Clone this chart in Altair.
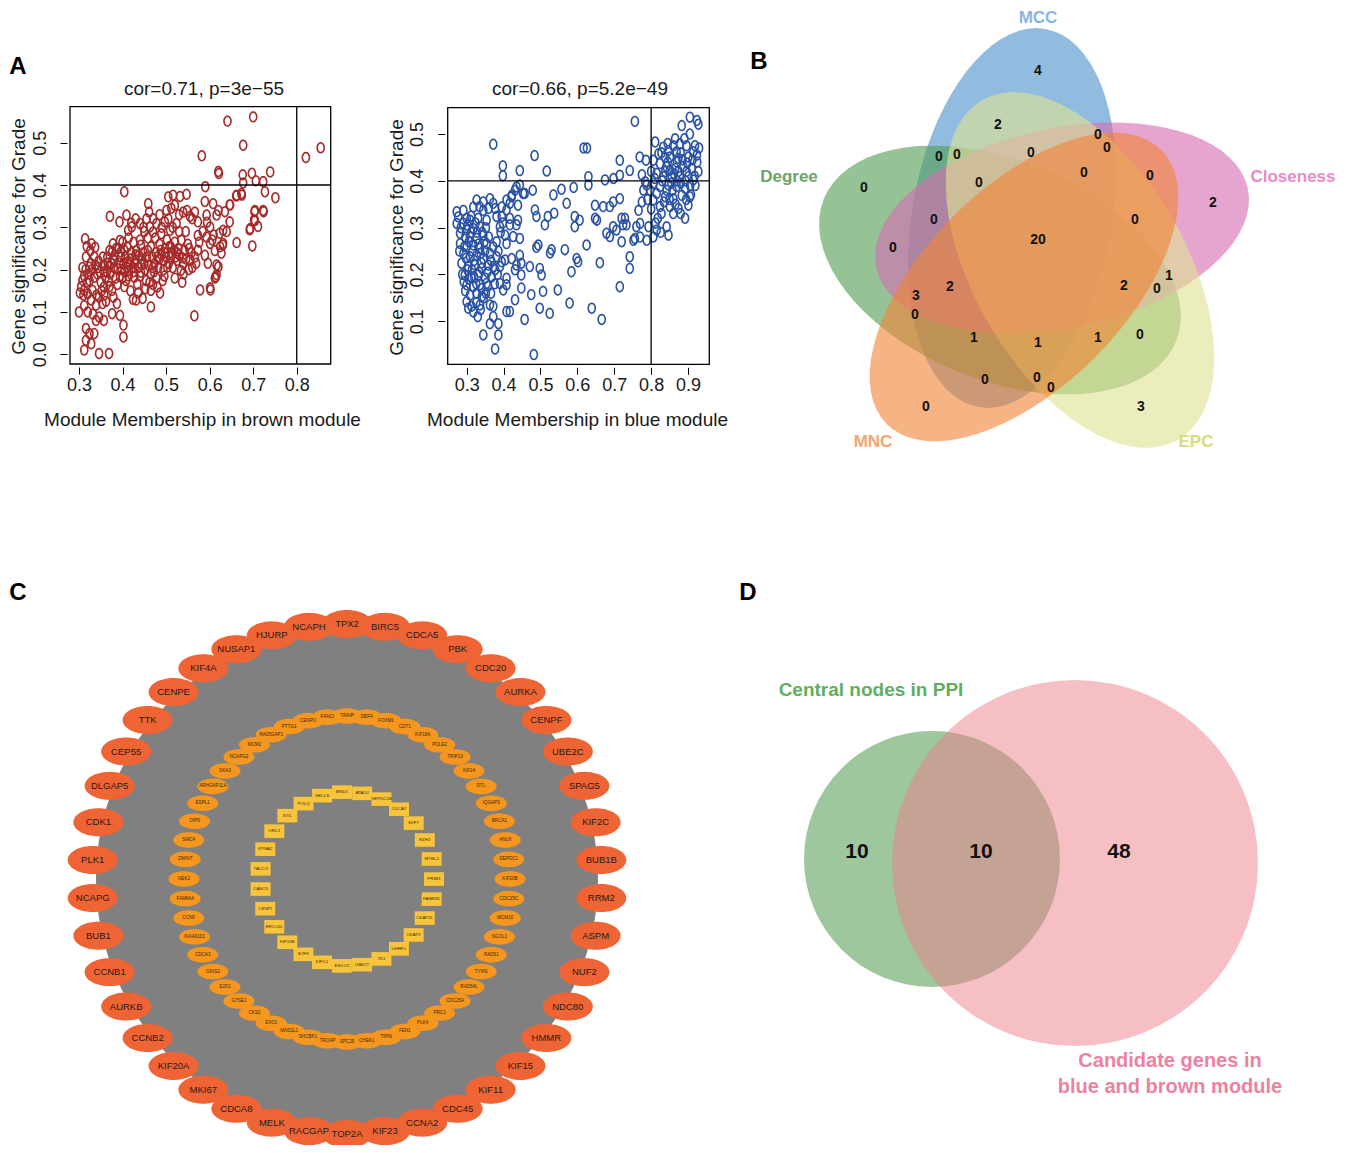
import math
import altair as alt
import pandas as pd

W, H = 1332, 1137
FONT = "Liberation Sans"

# ---------------- Panel A data ----------------
brown_pts = [
    (0.700,0.561),(0.641,0.551),(0.677,0.494),(0.582,0.469),(0.620,0.432),(0.621,0.427),(0.821,0.465),(0.855,0.488),
    (0.676,0.424),(0.697,0.428),(0.739,0.431),(0.706,0.410),(0.723,0.408),(0.677,0.405),(0.590,0.396),(0.404,0.384),
    (0.751,0.370),(0.727,0.384),(0.674,0.376),(0.661,0.374),(0.647,0.353),(0.703,0.337),(0.724,0.337),(0.702,0.317),
    (0.711,0.302),(0.692,0.294),(0.698,0.256),(0.662,0.264),(0.630,0.258),(0.627,0.239),(0.639,0.290),(0.623,0.286),
    (0.609,0.282),(0.620,0.207),(0.614,0.183),(0.602,0.152),(0.578,0.152),(0.565,0.091),
    (0.371,0.326),(0.393,0.313),(0.409,0.329),(0.459,0.356),(0.461,0.336),(0.505,0.372),(0.516,0.376),(0.532,0.373),
    (0.547,0.378),(0.501,0.340),(0.520,0.352),(0.314,0.273),(0.329,0.261),(0.337,0.253),(0.378,0.261),(0.394,0.269),
    (0.413,0.293),(0.421,0.301),(0.440,0.309),(0.463,0.301),(0.478,0.309),(0.497,0.313),(0.470,0.289),(0.489,0.285),
    (0.509,0.293),(0.524,0.309),(0.539,0.336),(0.555,0.326),(0.566,0.336),(0.573,0.313),(0.589,0.361),(0.608,0.356),
    (0.620,0.340),(0.593,0.329),(0.616,0.329),(0.635,0.337),(0.646,0.353),(0.601,0.301),(0.631,0.293),(0.646,0.313),
    (0.662,0.376),(0.673,0.380),(0.704,0.340),(0.723,0.340),(0.704,0.316),(0.693,0.297),(0.573,0.281),(0.593,0.277),
    (0.601,0.262),(0.573,0.246),(0.589,0.234),(0.596,0.215),(0.616,0.211),(0.569,0.215),(0.555,0.223),(0.539,0.215),
    (0.616,0.188),(0.612,0.180),(0.601,0.157),(0.624,0.254),(0.631,0.262),
    (0.316,0.230),(0.324,0.206),(0.312,0.151),(0.320,0.143),(0.331,0.151),(0.324,0.174),(0.335,0.182),(0.328,0.128),
    (0.339,0.116),(0.346,0.135),(0.354,0.120),(0.357,0.159),(0.361,0.182),(0.368,0.206),(0.365,0.230),(0.376,0.242),
    (0.368,0.174),(0.376,0.151),(0.379,0.135),(0.387,0.120),(0.381,0.222),(0.389,0.202),(0.396,0.230),(0.404,0.246),
    (0.411,0.218),(0.415,0.198),(0.400,0.182),(0.408,0.174),(0.423,0.206),(0.430,0.222),(0.438,0.234),(0.450,0.214),
    (0.442,0.194),(0.427,0.182),(0.434,0.166),(0.454,0.174),(0.465,0.190),(0.473,0.214),(0.480,0.230),(0.488,0.246),
    (0.495,0.222),(0.503,0.206),(0.511,0.230),(0.518,0.246),(0.526,0.222),(0.465,0.254),(0.442,0.258),(0.411,0.254),
    (0.396,0.242),(0.534,0.198),(0.537,0.170),(0.492,0.174),(0.480,0.159),(0.465,0.151),(0.431,0.128),(0.446,0.132),
    (0.465,0.112),(0.346,0.088),(0.339,0.080),(0.357,0.080),(0.376,0.096),(0.394,0.092),(0.402,0.069),(0.402,0.041),
    (0.316,0.061),(0.324,0.049),(0.316,0.033),(0.328,0.025),(0.312,0.010),(0.346,0.002),(0.369,0.002),(0.335,0.049),
    (0.305,0.160),(0.310,0.140),(0.318,0.170),(0.322,0.190),(0.330,0.200),(0.338,0.210),(0.342,0.190),(0.350,0.170),
    (0.352,0.150),(0.358,0.140),(0.362,0.125),(0.370,0.160),(0.372,0.190),(0.380,0.205),(0.384,0.180),(0.388,0.165),
    (0.392,0.215),(0.398,0.200),(0.402,0.215),(0.406,0.230),(0.410,0.205),(0.414,0.185),(0.418,0.225),(0.420,0.240),
    (0.425,0.195),(0.428,0.215),(0.432,0.245),(0.436,0.205),(0.440,0.185),(0.445,0.225),(0.448,0.240),(0.452,0.200),
    (0.456,0.230),(0.460,0.210),(0.462,0.170),(0.468,0.230),(0.472,0.195),(0.476,0.240),(0.478,0.180),(0.482,0.205),
    (0.485,0.260),(0.490,0.235),(0.494,0.200),(0.498,0.250),(0.500,0.230),(0.502,0.270),(0.506,0.215),(0.508,0.255),
    (0.512,0.240),(0.515,0.205),(0.520,0.265),(0.522,0.230),(0.528,0.250),(0.530,0.235),(0.535,0.270),(0.542,0.245),
    (0.546,0.225),(0.550,0.260),(0.552,0.200),(0.558,0.240),(0.545,0.290),(0.530,0.290),(0.515,0.300),(0.505,0.320),
    (0.490,0.300),(0.475,0.275),(0.458,0.275),(0.450,0.290),(0.440,0.270),(0.425,0.265),(0.414,0.275),(0.400,0.265),
    (0.385,0.250),(0.370,0.245),(0.355,0.230),(0.345,0.220),(0.335,0.230),(0.326,0.245),(0.318,0.255),(0.308,0.205),
    (0.312,0.185),(0.302,0.145),(0.300,0.100),(0.312,0.115),(0.320,0.100),(0.332,0.095),(0.340,0.140),(0.348,0.195),
    (0.356,0.210),(0.364,0.195),(0.374,0.215),(0.382,0.235),(0.390,0.250),(0.404,0.160),(0.418,0.150),(0.424,0.130),
    (0.436,0.145),(0.452,0.155),(0.470,0.165),(0.486,0.145),(0.496,0.185),(0.520,0.180),(0.540,0.190),(0.560,0.205),
    (0.566,0.230),(0.576,0.265),(0.584,0.290),(0.594,0.312),(0.606,0.270),(0.612,0.245),(0.560,0.320),(0.548,0.340),
    (0.530,0.330),(0.512,0.345),(0.485,0.330),(0.470,0.320),(0.455,0.320),(0.430,0.320),(0.420,0.310),(0.448,0.300),
    (0.308,0.175),(0.315,0.200),(0.327,0.215),(0.344,0.205),(0.358,0.195),(0.366,0.215),(0.378,0.225),(0.394,0.185),
    (0.405,0.195),(0.416,0.210),(0.430,0.235),(0.443,0.212),(0.458,0.245),(0.470,0.205),(0.484,0.225),(0.497,0.240),
    (0.510,0.255),(0.525,0.240),(0.538,0.228),(0.553,0.250),
]

blue_pts = [
    (0.756,0.527),(0.372,0.478),(0.484,0.454),(0.617,0.470),(0.626,0.470),(0.398,0.432),(0.398,0.411),(0.444,0.422),
    (0.517,0.421),(0.715,0.444),(0.742,0.422),(0.769,0.451),(0.786,0.444),(0.811,0.483),(0.833,0.472),(0.905,0.536),
    (0.928,0.521),(0.883,0.518),(0.924,0.529),
    (0.860,0.475),(0.878,0.479),(0.896,0.475),(0.919,0.475),(0.851,0.451),(0.874,0.448),(0.901,0.451),(0.924,0.455),
    (0.824,0.437),(0.842,0.430),(0.865,0.427),(0.887,0.430),(0.910,0.427),(0.928,0.420),(0.815,0.416),(0.833,0.409),
    (0.856,0.406),(0.878,0.409),(0.901,0.409),(0.914,0.402),(0.806,0.395),(0.824,0.388),(0.847,0.391),(0.869,0.388),
    (0.892,0.384),(0.788,0.391),(0.779,0.380),(0.815,0.373),(0.838,0.366),(0.860,0.362),(0.883,0.369),(0.905,0.366),
    (0.806,0.359),(0.824,0.345),(0.851,0.345),(0.874,0.341),(0.901,0.348),(0.892,0.320),(0.860,0.330),(0.842,0.302),
    (0.847,0.284),(0.815,0.295),(0.806,0.280),(0.788,0.273),(0.770,0.280),(0.752,0.273),(0.793,0.302),(0.770,0.309),
    (0.766,0.337),(0.775,0.355),(0.784,0.398),(0.775,0.413),(0.806,0.444),(0.820,0.458),(0.847,0.465),(0.869,0.462),
    (0.914,0.462),(0.851,0.423),(0.874,0.420),(0.896,0.420),(0.842,0.380),
    (0.830,0.400),(0.838,0.420),(0.845,0.440),(0.855,0.395),(0.862,0.415),(0.870,0.400),(0.880,0.395),(0.885,0.445),
    (0.893,0.400),(0.898,0.438),(0.906,0.390),(0.912,0.445),(0.918,0.410),(0.920,0.390),(0.925,0.440),(0.930,0.470),
    (0.905,0.500),(0.890,0.490),(0.870,0.440),(0.858,0.380),(0.850,0.360),(0.835,0.355),(0.828,0.330),(0.818,0.320),
    (0.810,0.405),(0.800,0.420),(0.797,0.380),(0.790,0.360),(0.800,0.340),(0.812,0.310),(0.826,0.290),(0.866,0.350),
    (0.880,0.330),(0.895,0.360),(0.908,0.370),(0.880,0.460),(0.865,0.490),(0.845,0.480),(0.828,0.460),(0.838,0.450),
    (0.675,0.402),(0.698,0.405),(0.715,0.412),(0.630,0.409),(0.630,0.391),(0.590,0.386),(0.557,0.382),(0.535,0.370),
    (0.571,0.352),(0.479,0.380),(0.457,0.373),(0.435,0.387),(0.422,0.369),(0.417,0.352),(0.439,0.348),(0.453,0.373),
    (0.408,0.338),(0.395,0.324),(0.417,0.320),(0.439,0.316),(0.485,0.338),(0.489,0.324),(0.520,0.324),(0.537,0.331),
    (0.512,0.306),(0.593,0.324),(0.606,0.316),(0.593,0.302),(0.648,0.348),(0.670,0.345),(0.688,0.345),(0.697,0.355),
    (0.715,0.362),(0.648,0.320),(0.653,0.316),(0.679,0.288),(0.688,0.281),(0.706,0.295),(0.720,0.320),(0.729,0.320),
    (0.724,0.306),(0.720,0.270),(0.733,0.306),(0.697,0.302),(0.760,0.302),(0.756,0.277),(0.742,0.238),(0.742,0.213),
    (0.715,0.174),(0.661,0.225),(0.625,0.263),(0.602,0.227),(0.598,0.234),(0.584,0.206),(0.566,0.253),(0.526,0.246),
    (0.530,0.253),(0.494,0.263),(0.489,0.258),(0.498,0.213),(0.503,0.199),(0.471,0.217),(0.444,0.241),(0.448,0.224),
    (0.431,0.210),(0.448,0.199),(0.408,0.192),(0.408,0.178),(0.390,0.181),(0.399,0.167),(0.431,0.146),(0.448,0.171),
    (0.475,0.157),(0.507,0.164),(0.547,0.167),(0.498,0.128),(0.525,0.117),(0.579,0.139),(0.639,0.128),(0.666,0.104),
    (0.457,0.104),(0.417,0.121),(0.408,0.121),(0.372,0.132),(0.372,0.110),(0.386,0.095),(0.363,0.095),(0.345,0.071),
    (0.386,0.071),(0.377,0.041),(0.482,0.029),
    (0.273,0.334),(0.273,0.309),(0.291,0.337),(0.327,0.359),(0.363,0.362),(0.372,0.352),(0.345,0.337),(0.381,0.324),
    (0.354,0.316),(0.282,0.288),(0.300,0.295),(0.318,0.298),(0.336,0.302),(0.309,0.281),(0.327,0.277),(0.345,0.284),
    (0.282,0.266),(0.300,0.259),(0.318,0.263),(0.336,0.256),(0.354,0.266),(0.372,0.259),(0.291,0.245),(0.309,0.238),
    (0.327,0.241),(0.345,0.234),(0.363,0.245),(0.381,0.238),(0.286,0.224),(0.304,0.217),(0.322,0.220),(0.341,0.213),
    (0.359,0.220),(0.377,0.210),(0.295,0.199),(0.313,0.195),(0.331,0.199),(0.350,0.192),(0.368,0.195),(0.300,0.178),
    (0.318,0.174),(0.336,0.178),(0.354,0.181),(0.309,0.156),(0.327,0.160),(0.341,0.153),(0.300,0.142),(0.313,0.132),
    (0.336,0.135),(0.363,0.135),(0.304,0.128),(0.372,0.217),(0.390,0.217),(0.395,0.227),(0.381,0.270),(0.408,0.266),
    (0.404,0.284),(0.390,0.302),(0.417,0.306),(0.435,0.306),(0.426,0.281),(0.444,0.277),(0.404,0.231),(0.422,0.234),
    (0.435,0.220),(0.277,0.323),(0.309,0.316),(0.331,0.320),(0.318,0.344),(0.359,0.341),(0.377,0.341),(0.395,0.344),
    (0.408,0.359),(0.422,0.366),(0.431,0.380),(0.444,0.391),
    (0.290,0.310),(0.296,0.280),(0.302,0.305),(0.306,0.270),(0.312,0.290),(0.316,0.250),(0.320,0.230),(0.324,0.310),
    (0.328,0.290),(0.332,0.265),(0.338,0.245),(0.340,0.225),(0.342,0.290),(0.348,0.270),(0.350,0.250),(0.352,0.300),
    (0.356,0.205),(0.360,0.280),(0.366,0.230),(0.294,0.260),(0.298,0.235),(0.302,0.210),(0.288,0.200),(0.292,0.185),
    (0.296,0.165),(0.306,0.190),(0.314,0.210),(0.320,0.195),(0.326,0.180),(0.334,0.205),(0.340,0.170),(0.346,0.150),
    (0.352,0.160),(0.284,0.300),(0.280,0.250),(0.326,0.140),(0.318,0.120),(0.330,0.110),(0.338,0.125),(0.358,0.175),
    (0.366,0.160),(0.376,0.180),(0.384,0.200),(0.386,0.250),(0.392,0.290),(0.398,0.310),(0.312,0.325),(0.300,0.320),
    (0.345,0.355),(0.335,0.345),
]

brown_x = [p[0] for p in brown_pts]
brown_y = [p[1] for p in brown_pts]
blue_x = [p[0] for p in blue_pts]
blue_y = [p[1] for p in blue_pts]

a1_title = "cor=0.71, p=3e\u221255"
a2_title = "cor=0.66, p=5.2e\u221249"
a1_xticks = [0.3, 0.4, 0.5, 0.6, 0.7, 0.8]
a1_yticks = [0.0, 0.1, 0.2, 0.3, 0.4, 0.5]
a2_xticks = [0.3, 0.4, 0.5, 0.6, 0.7, 0.8, 0.9]
a2_yticks = [0.1, 0.2, 0.3, 0.4, 0.5]
thr_x, thr_y = 0.8, 0.4

# ---------------- Panel B data ----------------
venn5_sets = ["MCC", "Closeness", "EPC", "MNC", "Degree"]
venn5_counts = [4, 2, 0, 0, 0, 0, 0, 0, 0, 0, 0, 2, 0, 0, 0, 20, 2, 2, 3, 0, 1, 0, 0, 1, 1, 1, 0, 0, 0, 0, 3]

# ---------------- Panel C data ----------------
outer_genes = ["TPX2", "BIRC5", "CDCA5", "PBK", "CDC20", "AURKA", "CENPF", "UBE2C", "SPAG5", "KIF2C", "BUB1B",
               "RRM2", "ASPM", "NUF2", "NDC80", "HMMR", "KIF15", "KIF11", "CDC45", "CCNA2", "KIF23", "TOP2A",
               "RACGAP", "MELK", "CDCA8", "MKI67", "KIF20A", "CCNB2", "AURKB", "CCNB1", "BUB1", "NCAPG", "PLK1",
               "CDK1", "DLGAP5", "CEP55", "TTK", "CENPE", "KIF4A", "NUSAP1", "HJURP", "NCAPH"]
middle_genes = ["TRAIP", "DBF4", "FOXM1", "CDT1", "KIF18A", "POLE2", "TRIP13", "KIF14", "DTL", "IQGAP3", "BRCA1",
                "ANLN", "DEPDC1", "KIF20B", "CDC25C", "MCM10", "SGOL1", "RAD51", "TYMS", "RAD54L", "CDC25A",
                "PRC1", "PLK4", "FEN1", "TIPIN", "CHEK1", "SPC25", "TROAP", "SHCBP1", "MAD2L1", "EXO1", "CKS2",
                "GTSE1", "E2F2", "GINS2", "CDCA3", "KIAA0101", "CCNF", "FAM64A", "NEK2", "ZWINT", "SMC4", "OIP5",
                "ESPL1", "ARHGAP11A", "SKA3", "NCAPG2", "MCM2", "RAD51AP1", "PTTG1", "CENPU", "FANCI"]
inner_genes = ["MND1", "ATAD2", "DEPDC1B", "CDCA7", "E2F7", "EZH2", "MYBL2", "PRIM1", "FAM83D", "CKAP2L", "CKAP2",
               "UHRF1", "TK1", "UBE2T", "ESCO2", "KIFC1", "E2F8", "KIF18B", "ERCC6L", "CENPI", "CASC5", "TACC3",
               "KPNA2", "ORC1", "STIL", "POLQ", "HELLS"]

# ---------------- Panel D data ----------------
venn2_counts = [10, 10, 48]
venn2_labels = ["Central nodes in PPI", "Candidate genes in", "blue and brown module"]

# ---------------- helpers ----------------
def ell_path(rx, ry, n=72):
    pts = [f"{rx*math.cos(2*math.pi*k/n):.4f},{ry*math.sin(2*math.pi*k/n):.4f}" for k in range(n)]
    return "M" + " L".join(pts) + " Z"

def rect_path(rx, ry):
    return f"M{-rx},{-ry} L{rx},{-ry} L{rx},{ry} L{-rx},{ry} Z"

CXS = alt.Scale(domain=[8, 8 + W], range=[0, W], nice=False, zero=False)
CYS = alt.Scale(domain=[8, 8 + H], range=[0, H], nice=False, zero=False)

def cx(f="x"):
    return alt.X(f"{f}:Q", scale=CXS, axis=None)

def cy(f="y"):
    return alt.Y(f"{f}:Q", scale=CYS, axis=None)

def text_layer(df, size, color="#111111", weight="normal", align="center"):
    return alt.Chart(df).mark_text(font=FONT, fontSize=size, fontWeight=weight, color=color,
                                   align=align, baseline="middle").encode(x=cx(), y=cy(), text="t:N")

layers = []

# ---------------- Panel A scatter layers ----------------
def scatter(xs, ys, color, xdom, ydom, xr, yr, xticks, yticks, xtitle, xt_pos, yt_pos, left_px):
    XS = alt.Scale(domain=xdom, range=xr, nice=False, zero=False)
    YS = alt.Scale(domain=ydom, range=yr, nice=False, zero=False)
    axis_y_px = yr[0] + 3
    xaxis = alt.Axis(orient="bottom", offset=axis_y_px - H, values=xticks, format=".1f", grid=False,
                     domain=False, tickSize=7, tickColor="black", tickWidth=1, labelFont=FONT,
                     labelFontSize=18, labelColor="#1a1a1a", labelPadding=2, labelFlush=False,
                     labelOverlap=False, title=xtitle, titleFont=FONT, titleFontSize=19,
                     titleFontWeight="normal", titleColor="#1a1a1a", titleX=xt_pos[0] - 8,
                     titleY=xt_pos[1] - 8 - axis_y_px, titleAlign="center", titleBaseline="middle")
    axis_x_px = left_px - 8 - 3
    yaxis = alt.Axis(orient="left", offset=-axis_x_px, values=yticks, format=".1f", grid=False,
                     domain=False, tickSize=7, tickColor="black", tickWidth=1, labelFont=FONT,
                     labelFontSize=18, labelColor="#1a1a1a", labelAngle=270, labelAlign="center",
                     labelBaseline="bottom", labelPadding=11, labelFlush=False, labelOverlap=False,
                     title="Gene significance for Grade", titleFont=FONT, titleFontSize=19,
                     titleFontWeight="normal", titleColor="#1a1a1a", titleAngle=270,
                     titleX=yt_pos[0] - 8 - axis_x_px, titleY=yt_pos[1] - 8,
                     titleAlign="center", titleBaseline="middle")
    df = pd.DataFrame({"x": xs, "y": ys})
    pts = alt.Chart(df).mark_point(shape=ell_path(0.72, 1.0, 24), filled=False, size=96,
                                   strokeWidth=1.6, color=color, opacity=1).encode(
        x=alt.X("x:Q", scale=XS, axis=xaxis), y=alt.Y("y:Q", scale=YS, axis=yaxis))
    box = alt.Chart(pd.DataFrame({"x0": [xdom[0]], "x1": [xdom[1]], "y0": [ydom[0]], "y1": [ydom[1]]})).mark_rect(
        fillOpacity=0, stroke="black", strokeWidth=1.3).encode(
        x=alt.X("x0:Q", scale=XS, axis=None), x2="x1:Q", y=alt.Y("y0:Q", scale=YS, axis=None), y2="y1:Q")
    hr = alt.Chart(pd.DataFrame({"x0": [xdom[0]], "x1": [xdom[1]], "y": [thr_y]})).mark_rule(
        color="black", strokeWidth=1.3).encode(
        x=alt.X("x0:Q", scale=XS, axis=None), x2="x1:Q", y=alt.Y("y:Q", scale=YS, axis=None))
    vr = alt.Chart(pd.DataFrame({"x": [thr_x], "y0": [ydom[0]], "y1": [ydom[1]]})).mark_rule(
        color="black", strokeWidth=1.3).encode(
        x=alt.X("x:Q", scale=XS, axis=None), y=alt.Y("y0:Q", scale=YS, axis=None), y2="y1:Q")
    return [pts, box, hr, vr]

layers += scatter(brown_x, brown_y, "#a52a2a", [0.2793, 0.878], [-0.0229, 0.585], [62, 322.7], [356, 98.7],
                  a1_xticks, a1_yticks, "Module Membership in brown module", (202, 419), (18, 236), 70)
layers += scatter(blue_x, blue_y, "#2a52a3", [0.2485, 0.9577], [0.0082, 0.5562], [439.7, 701.3], [356.3, 99.7],
                  a2_xticks, a2_yticks, "Module Membership in blue module", (577, 419), (396, 237), 447.7)

layers.append(text_layer(pd.DataFrame({"x": [204, 580], "y": [89, 89], "t": [a1_title, a2_title]}), 19,
                         color="#1a1a1a"))

# ---------------- Panel B: five-set Venn ----------------
# ellipse geometry: centre, semi-axes, rotation (drawing order = list order)
v5_geom = [
    ("MCC",       1012, 218, 192, 100, 100, "#4e93cc"),
    ("Degree",    1000, 270, 190, 110, 22,  "#569e56"),
    ("Closeness", 1062, 228, 190, 100, 168, "#d56db2"),
    ("EPC",       1080, 270, 196, 106, 60,  "#e0e293"),
    ("MNC",       1024, 287, 194, 100, 135, "#f08437"),
]
for name, ex, ey, ea, eb, eang, ecol in v5_geom:
    layers.append(alt.Chart(pd.DataFrame({"x": [ex], "y": [ey], "ang": [eang]})).mark_point(
        shape=ell_path(1.0, eb / ea), filled=True, size=(2 * ea) ** 2, color=ecol, opacity=0.62,
        strokeWidth=0).encode(x=cx(), y=cy(), angle=alt.Angle("ang:Q", scale=None)))

v5_num_x = [1038, 998, 1098, 1107, 939, 957, 1031, 864, 979, 1084, 1150, 1213, 934, 1135, 893, 1038,
            950, 1124, 916, 915, 1169, 1157, 1140, 974, 1038, 1098, 985, 1037, 1051, 926, 1141]
v5_num_y = [71, 125, 135, 148, 157, 155, 153, 188, 183, 173, 176, 203, 220, 220, 248, 240,
            287, 286, 296, 315, 276, 289, 335, 338, 343, 338, 380, 378, 388, 407, 407]
layers.append(text_layer(pd.DataFrame({"x": v5_num_x, "y": v5_num_y, "t": [str(c) for c in venn5_counts]}),
                         14, weight="bold"))
v5_label_colors = ["#8cb4e1", "#e58cc8", "#d8dc78", "#f5a56e", "#6aa56a"]
v5_lab = pd.DataFrame({"x": [1038, 1293, 1196, 873, 789], "y": [18, 177, 442, 442, 177], "t": venn5_sets,
                       "c": v5_label_colors})
layers.append(alt.Chart(v5_lab).mark_text(font=FONT, fontSize=17, fontWeight="bold", baseline="middle",
                                          align="center").encode(
    x=cx(), y=cy(), text="t:N", color=alt.Color("c:N", scale=None)))

# ---------------- Panel C: network rings ----------------
NC = (347, 879)
layers.append(alt.Chart(pd.DataFrame({"x": [NC[0]], "y": [NC[1]]})).mark_point(
    shape="circle", filled=True, color="#808080", size=502 ** 2, opacity=1, strokeWidth=0).encode(x=cx(), y=cy()))

def ring(genes, radius, start):
    n = len(genes)
    ang = [math.radians(start + 360 * i / n) for i in range(n)]
    return pd.DataFrame({"x": [NC[0] + radius * math.cos(a) for a in ang],
                         "y": [NC[1] + radius * math.sin(a) for a in ang], "t": genes})

outer_df = ring(outer_genes, 255, -90)
middle_df = ring(middle_genes, 163, -90)
inner_df = ring(inner_genes, 87, -93.3)

layers.append(alt.Chart(outer_df).mark_point(shape=ell_path(1.0, 0.56), filled=True, size=50 ** 2,
                                             color="#ee6434", opacity=1, strokeWidth=0).encode(x=cx(), y=cy()))
layers.append(text_layer(outer_df, 9.5, color="#2a1a14"))
layers.append(alt.Chart(middle_df).mark_point(shape=ell_path(1.0, 0.5), filled=True, size=31 ** 2,
                                              color="#f5961e", opacity=1, strokeWidth=0).encode(x=cx(), y=cy()))
layers.append(text_layer(middle_df, 4.6, color="#3a2a10"))
layers.append(alt.Chart(inner_df).mark_point(shape=rect_path(1.0, 0.68), filled=True, size=20 ** 2,
                                             color="#f7c43c", opacity=1, strokeWidth=0).encode(x=cx(), y=cy()))
layers.append(text_layer(inner_df, 4.4, color="#3a2a10"))

# ---------------- Panel D: two-set Venn ----------------
circ_df = pd.DataFrame({"x": [932, 1075], "y": [859, 863], "s": [(2 * 128) ** 2, (2 * 183) ** 2],
                        "col": ["#3d8f3d", "#ec7f89"]})
layers.append(alt.Chart(circ_df).mark_point(shape="circle", filled=True, opacity=0.5, strokeWidth=0).encode(
    x=cx(), y=cy(), size=alt.Size("s:Q", scale=None), color=alt.Color("col:N", scale=None)))
layers.append(text_layer(pd.DataFrame({"x": [857, 981, 1119], "y": [852, 852, 852],
                                       "t": [str(v) for v in venn2_counts]}), 21, weight="bold"))
layers.append(alt.Chart(pd.DataFrame({"x": [871, 1170, 1170], "y": [690, 1061, 1087], "t": venn2_labels,
                                      "c": ["#5faf5f", "#eb82a0", "#eb82a0"],
                                      "fs": [19, 20, 20]})).mark_text(
    font=FONT, fontWeight="bold", baseline="middle", align="center").encode(
    x=cx(), y=cy(), text="t:N", color=alt.Color("c:N", scale=None), size=alt.Size("fs:Q", scale=None)))

# ---------------- Panel letters ----------------
layers.append(text_layer(pd.DataFrame({"x": [18, 759, 18, 748], "y": [67, 62, 593, 593],
                                       "t": ["A", "B", "C", "D"]}), 24, color="#000000", weight="bold"))

chart = alt.layer(*layers).resolve_scale(x="independent", y="independent").properties(
    width=W, height=H, padding=0, autosize=alt.AutoSizeParams(type="none")
).configure(background="white").configure_view(strokeWidth=0)

chart.save("out.html", embed_options={"renderer": "svg", "actions": False})
